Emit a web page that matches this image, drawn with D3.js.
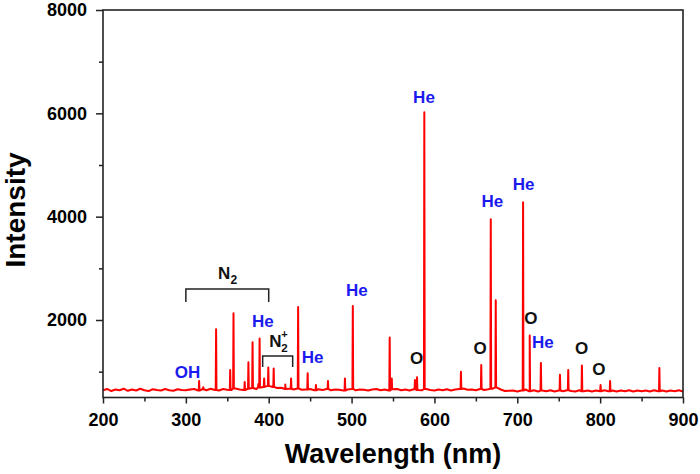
<!DOCTYPE html>
<html><head><meta charset="utf-8">
<script src="https://cdn.jsdelivr.net/npm/d3@7"></script>
<style>
body{margin:0;background:#fff}
svg text{font-family:"Liberation Sans",Arial,Helvetica,sans-serif;font-weight:bold}
</style>
</head><body>
<svg id="chart" width="700" height="474"></svg>
<script>
// ---- data ----
const xTicks = [200, 300, 400, 500, 600, 700, 800, 900];
const xMinorTicks = [250, 350, 450, 550, 650, 750, 850];
const yTicks = [2000, 4000, 6000, 8000];
const yMinorTicks = [1000, 3000, 5000, 7000];

const peakWavelengths = [305, 316, 321, 336.5, 353.5, 357.5, 371, 375.5, 380.5, 387.5, 389, 394.5, 399.5, 406, 420, 427, 435.5, 447, 457, 471.5, 492, 501.5, 546, 548.5, 576.5, 579, 587.8, 632, 656.5, 668, 674, 707, 715, 728.5, 751.5, 761.5, 778, 800.5, 812, 871.5];
const peakIntensities = [650, 820, 700, 1820, 1030, 2130, 800, 1180, 1570, 760, 1640, 870, 1080, 1060, 750, 870, 2250, 970, 740, 820, 870, 2270, 1660, 870, 840, 890, 6020, 1000, 1130, 3950, 2380, 4280, 1700, 1170, 940, 1030, 1120, 740, 820, 1070];

const baselineStart = 200, baselineStep = 5;
const baselineValues = [
  640,665,625,655,640,670,630,655,635,670,640,625,660,645,635,665,640,630,660,645,640,
  655,665,635,660,640,670,645,635,665,650,645,675,655,645,670,685,665,695,705,725,
  705,685,690,665,670,655,675,650,655,665,640,660,645,665,640,655,650,635,655,665,
  640,655,650,635,655,665,640,655,635,660,665,640,655,635,660,645,640,665,645,635,
  655,640,660,635,655,665,675,650,655,640,665,645,660,670,695,655,625,630,635,615,
  635,655,620,640,615,635,620,640,615,635,620,640,625,615,640,620,635,615,635,620,
  640,620,635,615,635,620,640,615,635,620,635,615,640,620,635,615,635,620,640,615
];

const labelTexts = ["OH", "He", "He", "He", "O", "He", "O", "He", "He", "O", "He", "O", "O"];
const labelWavelengths = [302, 393, 453, 506.5, 578.6, 587.4, 655, 670, 707.5, 716.5, 731, 777.7, 798.6];
const labelIntensities = [878, 1865, 1168, 2465, 1149, 6200, 1342, 4187, 4516, 1923, 1458, 1342, 936];
const labelColors = ["#1a1aee", "#1a1aee", "#1a1aee", "#1a1aee", "#111", "#1a1aee", "#111", "#1a1aee", "#1a1aee", "#111", "#1a1aee", "#111", "#111"];

// brackets: [startWl, endWl, topIntensity, legIntensity]
const bracketN2 = [300, 400, 2600, 2349];
const bracketN2plus = [392.7, 428.9, 1304, 1091];

// ---- chart ----
const svg = d3.select("#chart");
const W = 700, H = 474;
svg.append("rect").attr("width", W).attr("height", H).attr("fill", "#fff");

const x = d3.scaleLinear().domain([200, 900]).range([103, 683]);
const y = d3.scaleLinear().domain([500, 8000]).range([397.5, 10]);

// build spectrum points
const pts = baselineValues.map((v, i) => [baselineStart + i * baselineStep, v]);
peakWavelengths.forEach((wl, i) => {
  const b = baselineValues[Math.round((wl - baselineStart) / baselineStep)];
  pts.push([wl - 0.45, b], [wl, peakIntensities[i]], [wl + 0.45, b]);
});
pts.sort((a, b) => a[0] - b[0]);

svg.append("clipPath").attr("id", "clip").append("rect")
  .attr("x", 103).attr("y", 10).attr("width", 580).attr("height", 387.5);

const line = d3.line().x(d => x(d[0])).y(d => y(d[1]));
svg.append("path").datum(pts)
  .attr("clip-path", "url(#clip)")
  .attr("d", line)
  .attr("fill", "none")
  .attr("stroke", "#ff0000")
  .attr("stroke-width", 2)
  .attr("stroke-linejoin", "round");

// axes
const axisColor = "#222";
function styleAxis(g, fs) {
  g.select(".domain").remove();
  g.selectAll(".tick line").attr("stroke", axisColor).attr("stroke-width", 1.5);
  g.selectAll(".tick text").attr("fill", "#000").style("font-size", fs + "px");
}
const gx = svg.append("g").attr("transform", "translate(0,397.5)")
  .call(d3.axisBottom(x).tickValues(xTicks).tickSize(6).tickPadding(9.5).tickFormat(d3.format("d")));
styleAxis(gx, 18);
const gxm = svg.append("g").attr("transform", "translate(0,397.5)")
  .call(d3.axisBottom(x).tickValues(xMinorTicks).tickSize(4).tickFormat(""));
styleAxis(gxm, 18);
const gy = svg.append("g").attr("transform", "translate(103,0)")
  .call(d3.axisLeft(y).tickValues(yTicks).tickSize(7).tickPadding(9).tickFormat(d3.format("d")));
styleAxis(gy, 18);
const gym = svg.append("g").attr("transform", "translate(103,0)")
  .call(d3.axisLeft(y).tickValues(yMinorTicks).tickSize(4).tickFormat(""));
styleAxis(gym, 18);

// frame
svg.append("rect").attr("x", 103).attr("y", 10).attr("width", 580).attr("height", 387.5)
  .attr("fill", "none").attr("stroke", axisColor).attr("stroke-width", 1.6);

// titles
svg.append("text").attr("x", 393).attr("y", 463).attr("text-anchor", "middle")
  .style("font-size", "27px").attr("fill", "#000").text("Wavelength (nm)");
svg.append("text").attr("transform", "translate(25,210) rotate(-90)").attr("text-anchor", "middle")
  .style("font-size", "28px").attr("fill", "#000").text("Intensity");

// peak labels
labelTexts.forEach((t, i) => {
  svg.append("text").attr("x", x(labelWavelengths[i])).attr("y", y(labelIntensities[i]))
    .attr("text-anchor", "middle").style("font-size", "17px")
    .attr("fill", labelColors[i]).text(t);
});

// brackets
function bracket(b) {
  const p = d3.path();
  p.moveTo(x(b[0]), y(b[3]));
  p.lineTo(x(b[0]), y(b[2]));
  p.lineTo(x(b[1]), y(b[2]));
  p.lineTo(x(b[1]), y(b[3]));
  svg.append("path").attr("d", p.toString()).attr("fill", "none")
    .attr("stroke", "#222").attr("stroke-width", 1.5);
}
bracket(bracketN2);
bracket(bracketN2plus);

// N2 label
const n2x = x(338.7), n2y = y(2794);
svg.append("text").attr("x", n2x).attr("y", n2y).style("font-size", "17px").attr("fill", "#111").text("N");
svg.append("text").attr("x", n2x + 12.5).attr("y", n2y + 5).style("font-size", "12px").attr("fill", "#111").text("2");

// N2+ label
const npx = x(400.7), npy = y(1484);
svg.append("text").attr("x", npx).attr("y", npy).style("font-size", "17px").attr("fill", "#111").text("N");
svg.append("text").attr("x", npx + 12).attr("y", npy - 8.5).style("font-size", "11px").attr("fill", "#111").text("+");
svg.append("text").attr("x", npx + 12).attr("y", npy + 5.5).style("font-size", "11.5px").attr("fill", "#111").text("2");
</script>
</body></html>
